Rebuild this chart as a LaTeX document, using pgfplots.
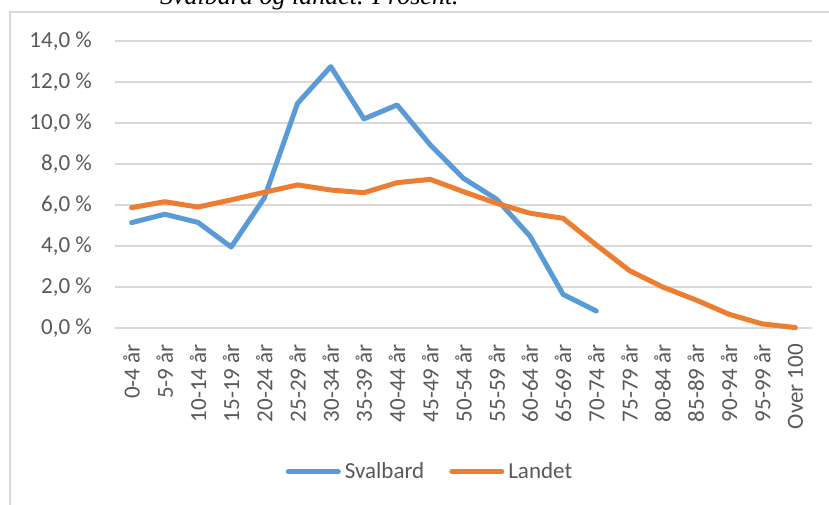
\documentclass[border=0pt]{standalone}
\usepackage{pgfplots}
\pgfplotsset{compat=1.18}
\usepackage{fontspec}
\setmainfont{Carlito}
\newfontfamily\titlefont{Liberation Serif}
\definecolor{sblue}{HTML}{5B9BD5}
\definecolor{sorange}{HTML}{ED7D31}
\definecolor{gridc}{HTML}{D9D9D9}
\definecolor{txt}{HTML}{595959}
\begin{document}
\begin{tikzpicture}
\useasboundingbox (0pt,0pt) rectangle (829pt,505pt);
\fill[white] (0pt,0pt) rectangle (829pt,505pt);
\draw[gridc, line width=1.3pt] (10pt,-5pt) -- (10pt,493pt) -- (840pt,493pt);
\node[anchor=base west, inner sep=0pt, font=\titlefont\itshape\fontsize{26}{30}\selectfont] at (160pt,500pt) {Svalbard og landet. Prosent.};
\begin{axis}[
  at={(115pt,177pt)}, anchor=south west,
  scale only axis, width=697pt, height=287pt,
  xmin=-0.5, xmax=20.5, ymin=0, ymax=14,
  clip=false,
  axis line style={draw=none},
  major tick length=0pt,
  ytick={0,2,...,14},
  ymajorgrids, grid style={gridc, line width=1.3pt},
  /pgf/number format/assume math mode=true,
  yticklabel={\pgfmathprintnumber[fixed,fixed zerofill,precision=1,use comma]{\tick}~\%},
  yticklabel style={inner sep=0pt, anchor=east},
  yticklabel shift=23pt,
  xtick={0,...,20},
  xticklabels={0-4 år,5-9 år,10-14 år,15-19 år,20-24 år,25-29 år,30-34 år,35-39 år,40-44 år,45-49 år,50-54 år,55-59 år,60-64 år,65-69 år,70-74 år,75-79 år,80-84 år,85-89 år,90-94 år,95-99 år,Over 100},
  xticklabel style={rotate=90, anchor=east, inner sep=0pt},
  xticklabel shift=16pt,
  ticklabel style={font=\fontsize{23}{27}\selectfont, text=txt},
  legend columns=2,
  legend style={at={(0.4505,-0.5007)}, anchor=center, draw=none, fill=none,
    font=\fontsize{23}{27}\selectfont, text=txt, inner sep=0pt,
    nodes={inner sep=0pt, anchor=west},
    /tikz/every odd column/.append style={column sep=4pt},
    /tikz/every even column/.append style={column sep=25pt}},
  legend image code/.code={\draw[#1, line cap=round] (2.5pt,0pt) -- (52.5pt,0pt);},
]
\addplot[sblue, line width=5pt, line join=round, line cap=round] coordinates {
(0,5.14) (1,5.55) (2,5.15) (3,3.95) (4,6.35) (5,10.96) (6,12.75) (7,10.2) (8,10.88) (9,8.93) (10,7.3) (11,6.28) (12,4.49) (13,1.64) (14,0.83)};
\addlegendentry{Svalbard}
\addplot[sorange, line width=5pt, line join=round, line cap=round] coordinates {
(0,5.87) (1,6.16) (2,5.9) (3,6.25) (4,6.62) (5,6.98) (6,6.73) (7,6.6) (8,7.09) (9,7.25) (10,6.65) (11,6.08) (12,5.6) (13,5.35) (14,4.05) (15,2.8) (16,2.0) (17,1.37) (18,0.67) (19,0.2) (20,0.02)};
\addlegendentry{Landet}
\end{axis}
\end{tikzpicture}
\end{document}
